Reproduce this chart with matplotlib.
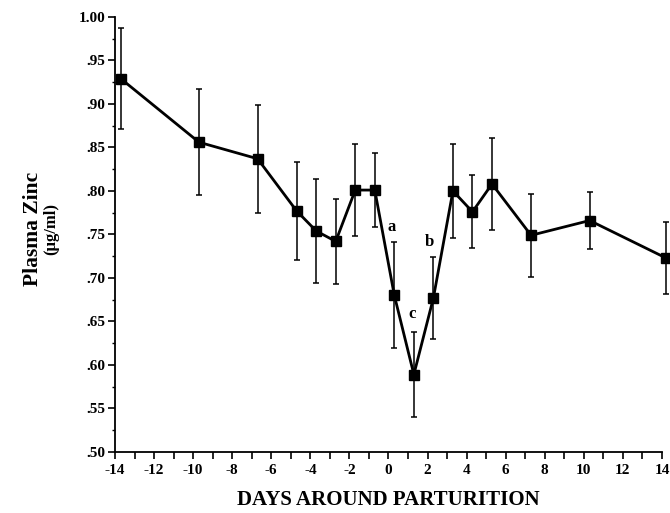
import matplotlib
matplotlib.use("Agg")
from matplotlib import pyplot as plt
from matplotlib.ticker import MultipleLocator, FuncFormatter

plt.rcParams["font.family"] = ["Liberation Serif", "DejaVu Serif"]
plt.rcParams["font.weight"] = "bold"

# days around parturition (as placed on the original figure)
days = [-13.7, -9.7, -6.7, -4.7, -3.7, -2.7, -1.7, -0.7, 0.3, 1.3, 2.3, 3.3, 4.3, 5.3, 7.3, 10.3, 14.2]
zinc = [0.929, 0.856, 0.837, 0.777, 0.754, 0.742, 0.801, 0.801, 0.680, 0.589, 0.677,
        0.800, 0.776, 0.808, 0.749, 0.766, 0.723]
err = [0.058, 0.061, 0.062, 0.056, 0.060, 0.049, 0.053, 0.043, 0.061, 0.049, 0.047,
       0.054, 0.042, 0.053, 0.048, 0.033, 0.041]

# significance letters
letters = ["a", "b", "c"]
letter_x = [0.16, 2.11, 1.22]
letter_y = [0.759, 0.741, 0.658]

fig = plt.figure(figsize=(6.7, 5.13), dpi=100)
ax = fig.add_axes([0.1716, 0.119, 0.8164, 0.848])

ax.errorbar(days, zinc, yerr=err, fmt="none", ecolor="black", elinewidth=1.1,
            capsize=2.5, capthick=1.1, clip_on=False)
ax.plot(days, zinc, color="black", lw=2, marker="s", markersize=7, clip_on=False)

for t, x, y in zip(letters, letter_x, letter_y):
    ax.text(x, y, t, fontsize=12, fontweight="bold", ha="center", va="center")

ax.set_xlim(-14, 14)
ax.set_ylim(0.5, 1.0)
ax.spines["top"].set_visible(False)
ax.spines["right"].set_visible(False)
ax.spines["left"].set_linewidth(1.3)
ax.spines["bottom"].set_linewidth(1.3)

ax.xaxis.set_major_locator(MultipleLocator(2))
ax.xaxis.set_minor_locator(MultipleLocator(1))
ax.yaxis.set_major_locator(MultipleLocator(0.05))
ax.yaxis.set_minor_locator(MultipleLocator(0.025))

ax.xaxis.set_major_formatter(FuncFormatter(lambda v, p: "{:d}".format(int(round(v)))))
ax.yaxis.set_major_formatter(FuncFormatter(lambda v, p: "1.00" if v > 0.999 else "{:.2f}".format(v)[1:]))

ax.tick_params(axis="both", which="major", direction="out", length=5, width=1.2, labelsize=11)
ax.tick_params(axis="x", which="minor", direction="out", length=5, width=1.2)
ax.tick_params(axis="y", which="minor", direction="out", length=2.5, width=1)
ax.tick_params(axis="x", pad=4)
ax.tick_params(axis="y", pad=2)

ax.set_xlabel("DAYS AROUND PARTURITION", fontsize=15, fontweight="bold", labelpad=9)
fig.text(0.05, 0.554, "Plasma Zinc", rotation=90, fontsize=15.5, fontweight="bold",
         ha="center", va="center")
fig.text(0.076, 0.554, "(\u00b5g/ml)", rotation=90, fontsize=12, fontweight="bold",
         ha="center", va="center")

fig.savefig("out.png", dpi=100)
